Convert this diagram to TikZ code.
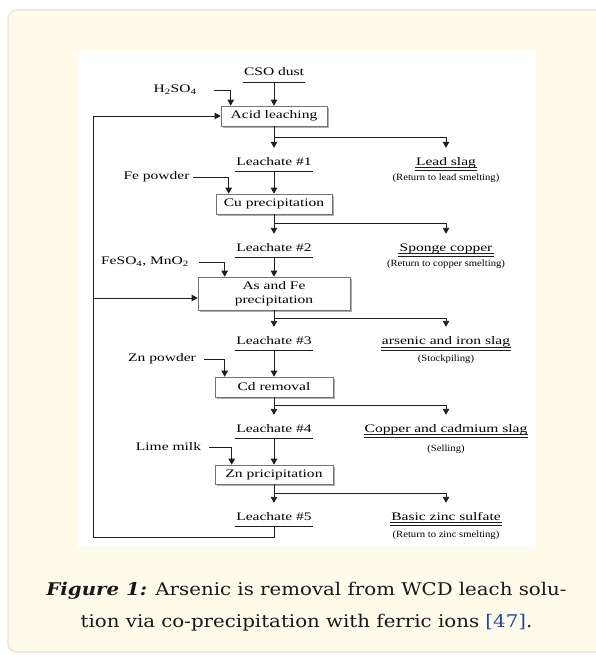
\documentclass[tikz,border=0pt]{standalone}
\usepackage{fontspec}
\usetikzlibrary{arrows.meta,shadows,calc}
\newfontfamily\dgfont[FakeStretch=1.35]{Liberation Serif}
\newfontfamily\dgsmallfont[FakeStretch=1.12]{Liberation Serif}
\newfontfamily\capfont[FakeStretch=1.13]{DejaVu Serif}
\definecolor{panelfill}{RGB}{254,251,234}
\definecolor{panelline}{RGB}{234,231,218}
\definecolor{refblue}{RGB}{40,70,160}
\definecolor{ink}{RGB}{30,30,30}
\definecolor{captext}{RGB}{25,25,25}

\begin{document}
\begin{tikzpicture}[x=1pt,y=-1pt,
  flow/.style={draw=ink, line width=0.9pt},
  arr/.style={flow, -{Triangle[length=6pt,width=6.5pt]}},
  dbl/.style={draw=ink, line width=0.7pt},
  stage/.style={draw=black!55, line width=0.6pt, fill=white,
    font=\dgfont\fontsize{11.5}{14}\selectfont, align=center, inner sep=0pt,
    drop shadow={shadow xshift=1.6pt, shadow yshift=-1.6pt, fill=black!45, opacity=0.7}},
  lbl/.style={font=\dgfont\fontsize{11.5}{14}\selectfont, inner xsep=1pt, inner ysep=0pt,
    text height=8pt, text depth=2.5pt, anchor=base},
  note/.style={font=\dgsmallfont\fontsize{9.5}{11}\selectfont, inner sep=0pt, anchor=base},
  feed/.style={font=\dgfont\fontsize{11.5}{14}\selectfont, inner sep=0pt},
]
% page, panel and figure area
\fill[white] (0,0) rectangle (595,655);
\useasboundingbox (0,0) rectangle (595,655);
\filldraw[fill=panelfill, draw=panelline, line width=1.5pt, rounded corners=9pt]
  (8,10) rectangle (640,652);
\fill[white] (77,51) rectangle (536,547);

% ---- stage 1: acid leaching
\node[lbl] (cso) at (274,76) {CSO dust};
\draw[flow] ([yshift=-3.5pt]cso.south west) -- ([yshift=-3.5pt]cso.south east);
\node[stage, minimum width=106pt, minimum height=20pt] (acid) at (274,116) {Acid leaching};
\node[feed] (h2so4) at (175,90) {H\textsubscript{2}SO\textsubscript{4}};
\draw[arr] ([yshift=-3.5pt]cso.south) -- (acid.north);
\draw[arr] ([xshift=17pt]h2so4.east) -| ([xshift=10pt]acid.north west);

\node[lbl] (l1) at (274,165) {Leachate \#1};
\node[lbl] (s1) at (446,165) {Lead slag};
\node[note] (n1) at (446,180) {(Return to lead smelting)};
\coordinate (j1) at (274,137);
\draw[arr, shorten >=9pt] (acid.south) -- (l1.north);
\draw[arr, shorten >=9pt] (j1) -| (s1.north);
\draw[flow] ([yshift=-3.5pt]l1.south west) -- ([yshift=-3.5pt]l1.south east);
\draw[dbl] (s1.south west) -- (s1.south east);
\draw[dbl] ([yshift=-3pt]s1.south west) -- ([yshift=-3pt]s1.south east);

% ---- stage 2: copper precipitation
\node[stage, minimum width=116pt, minimum height=20pt] (cu) at (274,204) {Cu precipitation};
\node[feed] (fe) at (156.5,177) {Fe powder};
\draw[arr] ([yshift=-3.5pt]l1.south) -- (cu.north);
\draw[arr] ([xshift=3.5pt]fe.east) -| ([xshift=13pt]cu.north west);

\node[lbl] (l2) at (274,251) {Leachate \#2};
\node[lbl] (s2) at (446,251) {Sponge copper};
\node[note] (n2) at (446,266) {(Return to copper smelting)};
\coordinate (j2) at (274,223);
\draw[arr, shorten >=9pt] (cu.south) -- (l2.north);
\draw[arr, shorten >=9pt] (j2) -| (s2.north);
\draw[flow] ([yshift=-3.5pt]l2.south west) -- ([yshift=-3.5pt]l2.south east);
\draw[dbl] (s2.south west) -- (s2.south east);
\draw[dbl] ([yshift=-3pt]s2.south west) -- ([yshift=-3pt]s2.south east);

% ---- stage 3: arsenic and iron precipitation
\node[stage, minimum width=152pt, minimum height=33pt] (asfe) at (274,293.5) {As and Fe\\precipitation};
\node[feed] (feso) at (145,262) {FeSO\textsubscript{4}, MnO\textsubscript{2}};
\draw[arr] ([yshift=-3.5pt]l2.south) -- (asfe.north);
\draw[arr] ([xshift=10pt]feso.east) -| ([xshift=27pt]asfe.north west);

\node[lbl] (l3) at (274,344) {Leachate \#3};
\node[lbl] (s3) at (446,344) {arsenic and iron slag};
\node[note] (n3) at (446,361) {(Stockpiling)};
\coordinate (j3) at (274,318);
\draw[arr, shorten >=9pt] (asfe.south) -- (l3.north);
\draw[arr, shorten >=9pt] (j3) -| (s3.north);
\draw[flow] ([yshift=-3.5pt]l3.south west) -- ([yshift=-3.5pt]l3.south east);
\draw[dbl] ([yshift=-1pt]s3.south west) -- ([yshift=-1pt]s3.south east);
\draw[dbl] ([yshift=-4pt]s3.south west) -- ([yshift=-4pt]s3.south east);

% ---- stage 4: cadmium removal
\node[stage, minimum width=118pt, minimum height=20pt] (cd) at (274,387) {Cd removal};
\node[feed] (znp) at (162,359) {Zn powder};
\draw[arr] ([yshift=-3.5pt]l3.south) -- (cd.north);
\draw[arr] ([xshift=8pt]znp.east) -| ([xshift=10pt]cd.north west);

\node[lbl] (l4) at (274,432) {Leachate \#4};
\node[lbl] (s4) at (446,432) {Copper and cadmium slag};
\node[note] (n4) at (446,451) {(Selling)};
\coordinate (j4) at (274,405);
\draw[arr, shorten >=9pt] (cd.south) -- (l4.north);
\draw[arr, shorten >=9pt] (j4) -| (s4.north);
\draw[flow] ([yshift=-3.5pt]l4.south west) -- ([yshift=-3.5pt]l4.south east);
\draw[dbl] (s4.south west) -- (s4.south east);
\draw[dbl] ([yshift=-3pt]s4.south west) -- ([yshift=-3pt]s4.south east);

% ---- stage 5: zinc precipitation
\node[stage, minimum width=118pt, minimum height=19pt] (zn) at (274,474.5) {Zn pricipitation};
\node[feed] (lime) at (168.5,447) {Lime milk};
\draw[arr] ([yshift=-3.5pt]l4.south) -- (zn.north);
\draw[arr] ([xshift=8pt]lime.east) -| ([xshift=17pt]zn.north west);

\node[lbl] (l5) at (274,520) {Leachate \#5};
\node[lbl] (s5) at (446,520) {Basic zinc sulfate};
\node[note] (n5) at (446,537) {(Return to zinc smelting)};
\coordinate (j5) at (274,493);
\draw[arr, shorten >=9pt] (zn.south) -- (l5.north);
\draw[arr, shorten >=9pt] (j5) -| (s5.north);
\draw[flow] ([yshift=-3.5pt]l5.south west) -- ([yshift=-3.5pt]l5.south east);
\draw[dbl] (s5.south west) -- (s5.south east);
\draw[dbl] ([yshift=-3pt]s5.south west) -- ([yshift=-3pt]s5.south east);

% ---- recycle loop of the final leachate
\coordinate (lp) at (93,537);
\coordinate (r3) at ([yshift=-4.5pt]asfe.west);
\draw[arr] ([yshift=-3.5pt]l5.south) |- (lp) |- (acid.west);
\draw[arr] (lp |- r3) -- (r3);

% ---- caption
\node[font=\capfont\fontsize{17.5}{32}\selectfont, text=captext, align=center, inner sep=0pt]
  (cap) at (306.5,607)
  {\textbf{\textit{Figure 1:}} Arsenic is removal from WCD leach solu-\\
   tion via co-precipitation with ferric ions \textcolor{refblue}{[47]}.};
\end{tikzpicture}
\end{document}
